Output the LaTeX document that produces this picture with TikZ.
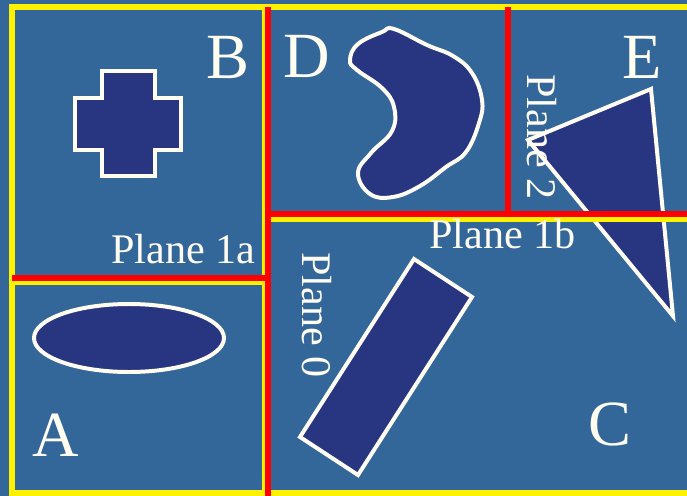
\documentclass[tikz,border=0pt]{standalone}
\usepackage{fontspec}
\setmainfont{Liberation Serif}
\definecolor{bgblue}{HTML}{336699}
\definecolor{shapeblue}{HTML}{283580}
\definecolor{chalk}{HTML}{FFFDF0}

\tikzset{
  obj/.style={fill=shapeblue,draw=chalk,line width=3.4pt,line join=miter},
  cell/.style={draw=yellow,line width=4.5pt},
  plane/.style={draw=red,line width=5.2pt},
  region/.style={text=chalk,font=\fontsize{55}{60}\selectfont,inner sep=0pt},
  planelbl/.style={text=chalk,font=\fontsize{36}{40}\selectfont,inner sep=0pt},
}

\begin{document}
\begin{tikzpicture}[x=0.03cm,y=-0.03cm]
    \fill[bgblue] (0,0) rectangle (687,496);
    \useasboundingbox (0,0) rectangle (687,496);
    % objects
    \draw[obj] (102,71) -- (155,71) -- (155,98) -- (181,98) -- (181,150) -- (155,150) -- (155,176) -- (102,176) -- (102,150) -- (75,150) -- (75,98) -- (102,98) -- cycle;
    \draw[obj] (129,338) ellipse [x radius=95, y radius=34];
    \draw[obj] plot[smooth cycle, tension=0.7] coordinates {(350,60) (358,44) (382,32) (394,29) (427,45) (453,56) (472,73) (482,100) (479,123) (466,152) (446,167) (420,186) (393,197) (370,194) (358,173) (371,153) (392,131) (394,107) (382,88) (357,70)};
    \draw[obj] (414,259) -- (472,297) -- (358,475) -- (300,437) -- cycle;
    \draw[obj] (651,89) -- (528,140) -- (673,316) -- cycle;
    % cells
    \draw[cell] (12,7) rectangle (692,493);
    \draw[cell] (265,7) -- (265,493);
    \draw[cell] (12,282) -- (265,282);
    \draw[cell] (271,219) -- (692,219);
    \draw[cell, line width=2.5pt] (510,7) -- (510,215);
    % splitting planes
    \draw[plane] (268,7) -- (268,496);
    \draw[plane] (12,278) -- (268,278);
    \draw[plane] (268,214) -- (687,214);
    \draw[plane] (508,7) -- (508,214);
    % labels
    \node[region] (lblB) at (228,57) {B};
    \node[region] (lblD) at (307,56) {D};
    \node[region] (lblE) at (642,57) {E};
    \node[region] (lblA) at (56,435) {A};
    \node[region] (lblC) at (610,424) {C};
    \node[planelbl, anchor=base west] (pl1a) at (111,263) {Plane 1a};
    \node[planelbl, anchor=base west] (pl1b) at (429,248) {Plane 1b};
    \node[planelbl, anchor=base west, rotate=-90] (pl0) at (302,252) {Plane 0};
    \node[planelbl, anchor=base west, rotate=-90] (pl2) at (527,74) {Plane 2};
\end{tikzpicture}
\end{document}
